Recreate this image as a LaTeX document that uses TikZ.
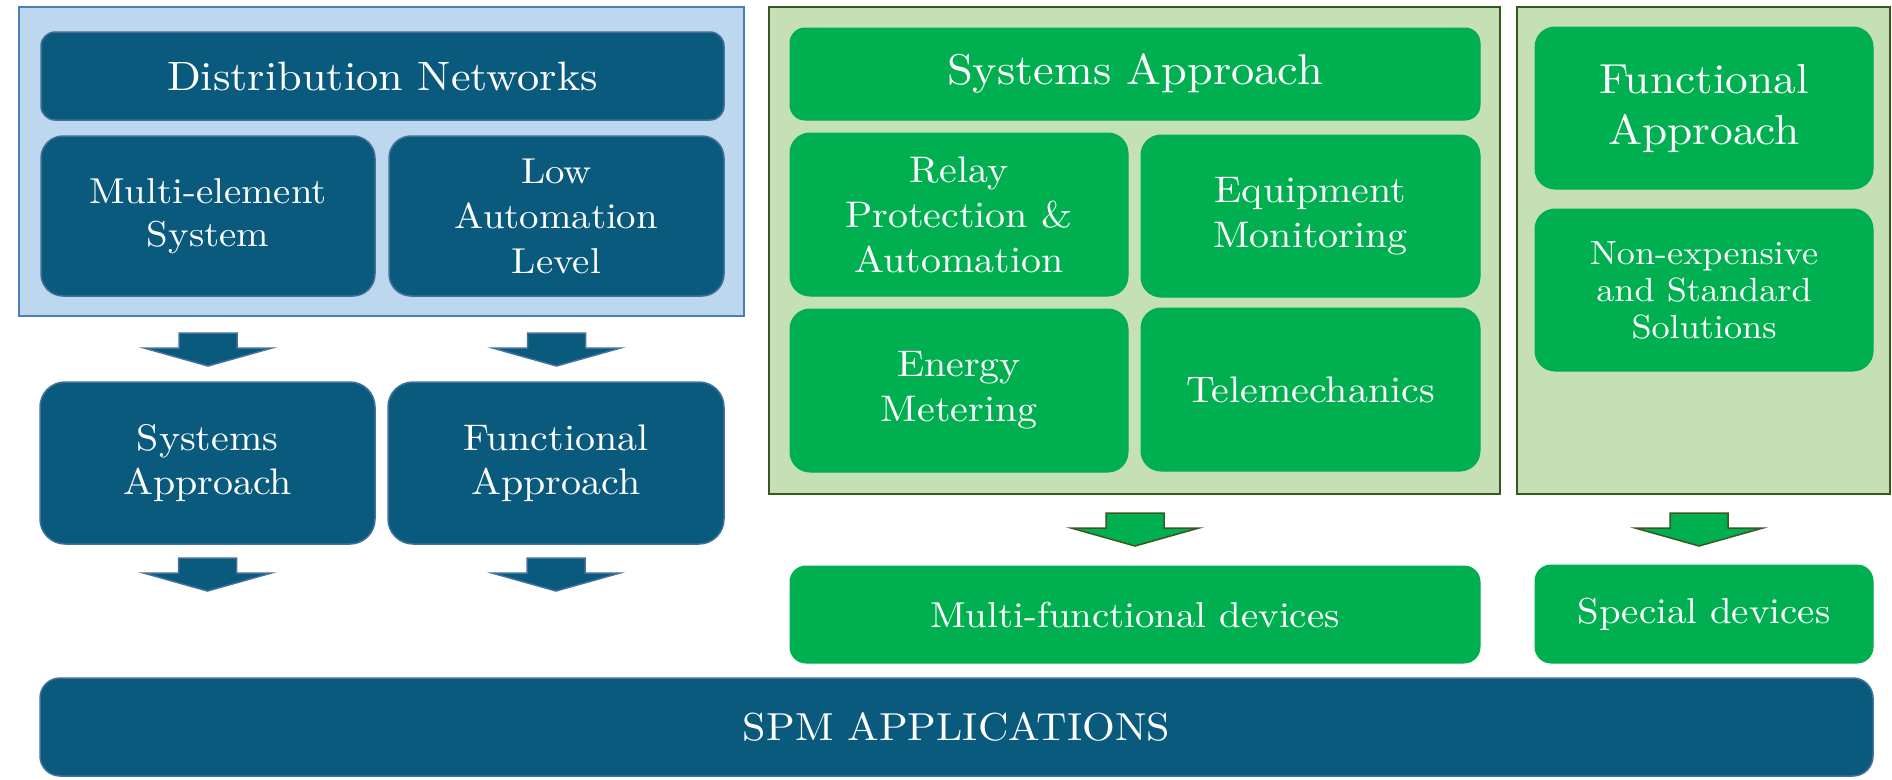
\documentclass[tikz,border=0pt]{standalone}
\usepackage{fontspec}
\setmainfont{lmroman10-regular.otf}[FakeStretch=1.08]
\definecolor{dblue}{HTML}{0A5A7D}
\definecolor{bluebd}{HTML}{41719C}
\definecolor{lblue}{HTML}{BDD7EE}
\definecolor{lbluebd}{HTML}{4A7EBB}
\definecolor{gfill}{HTML}{00B050}
\definecolor{lgreen}{HTML}{C5E0B4}
\definecolor{gbd}{HTML}{385723}
\newcommand{\fs}[2]{\fontsize{#1}{#2}\selectfont}
\begin{document}
\begin{tikzpicture}[x=1pt,y=-1pt,
  dbox/.style={draw=bluebd, line width=1.5pt, fill=dblue, text=white, rounded corners=#1, inner sep=0pt, align=center},
  dbox/.default=22pt,
  gbox/.style={draw=gfill, line width=1pt, fill=gfill, text=white, rounded corners=#1, inner sep=0pt, align=center},
  gbox/.default=20pt,
  bluebg/.style={draw=lbluebd, line width=2pt, fill=lblue, inner sep=0pt},
  greenbg/.style={draw=gbd, line width=2pt, fill=lgreen, inner sep=0pt},
  pics/downarr/.style 2 args={code={
    \filldraw[fill=#1, draw=#2, line width=1.5pt]
      (-29,0) -- (29,0) -- (29,15) -- (64,15) -- (0,33) -- (-64,15) -- (-29,15) -- cycle;}}
]
\useasboundingbox (0,0) rectangle (1892,779);

% containers
\node[bluebg, minimum width=725pt, minimum height=309pt] (bbg) at (381.5,161.5) {};
\node[greenbg, minimum width=731pt, minimum height=487pt] (gbg1) at (1134.5,250.5) {};
\node[greenbg, minimum width=373pt, minimum height=487pt] (gbg2) at (1703.5,250.5) {};

% left column
\node[dbox=14pt, minimum width=683pt, minimum height=88pt, font=\fs{41}{50}] (dn) at (382.5,76) {Distribution Networks};
\node[dbox, minimum width=334pt, minimum height=160pt, font=\fs{36}{43}] (me) at (208,216) {Multi-element\\System};
\node[dbox, minimum width=335pt, minimum height=160pt, font=\fs{36}{45}] (la) at (556.5,216) {Low\\Automation\\Level};
\node[dbox=25pt, minimum width=335pt, minimum height=162pt, font=\fs{37}{44}] (sa) at (207.5,463) {Systems\\Approach};
\node[dbox=25pt, minimum width=336pt, minimum height=162pt, font=\fs{37}{44}] (fa) at (556,463) {Functional\\Approach};

% middle column
\node[gbox=15pt, minimum width=690pt, minimum height=92pt, font=\fs{43}{50}] (gsa) at (1135,74) {Systems Approach};
\node[gbox, minimum width=338pt, minimum height=163pt, font=\fs{37}{45}] (relay) at (959,214.5) {Relay\\Protection \&\\Automation};
\node[gbox, minimum width=339pt, minimum height=162pt, font=\fs{37}{45}] (equip) at (1310.5,216) {Equipment\\Monitoring};
\node[gbox, minimum width=338pt, minimum height=163pt, font=\fs{37}{45}] (energy) at (959,390.5) {Energy\\Metering};
\node[gbox, minimum width=339pt, minimum height=163pt, font=\fs{37}{45}] (tele) at (1310.5,389.5) {Telemechanics};

% right column
\node[gbox, minimum width=338pt, minimum height=162pt, font=\fs{42}{51}] (gfa) at (1704,108) {Functional\\Approach};
\node[gbox, minimum width=338pt, minimum height=162pt, font=\fs{33.5}{37}] (nonexp) at (1704,290) {Non-expensive\\and Standard\\Solutions};

% devices
\node[gbox=16pt, minimum width=690pt, minimum height=97pt, font=\fs{36}{43}] (mfd) at (1135,614.5) {Multi-functional devices};
\node[gbox=16pt, minimum width=338pt, minimum height=98pt, font=\fs{36}{43}] (sd) at (1704,614) {Special devices};

% bottom bar
\node[dbox=20pt, minimum width=1833pt, minimum height=98pt, font=\fs{39}{48}] (spm) at (956.5,727) {SPM APPLICATIONS};

% block arrows
\coordinate (r1) at (0,333);
\coordinate (r2) at (0,558);
\coordinate (r3) at (0,513);
\coordinate (g2) at (1699,513);
\pic at (me |- r1) {downarr={dblue}{bluebd}};
\pic at (la |- r1) {downarr={dblue}{bluebd}};
\pic at (sa |- r2) {downarr={dblue}{bluebd}};
\pic at (fa |- r2) {downarr={dblue}{bluebd}};
\pic at (mfd |- r3) {downarr={gfill}{gbd}};
\pic at (g2) {downarr={gfill}{gbd}};
\end{tikzpicture}
\end{document}
